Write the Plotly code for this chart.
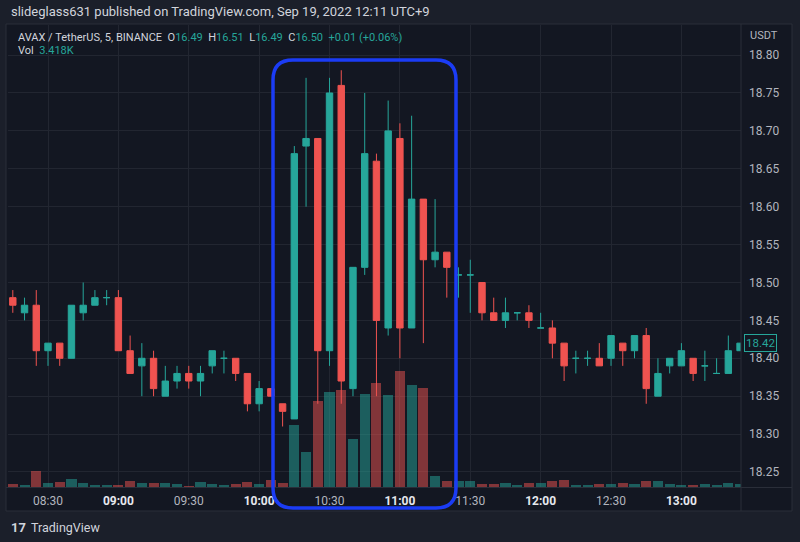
import plotly.graph_objects as go

# ---------------- data ----------------
times = ["08:15", "08:20", "08:25", "08:30", "08:35", "08:40", "08:45", "08:50", "08:55",
         "09:00", "09:05", "09:10", "09:15", "09:20", "09:25", "09:30", "09:35", "09:40",
         "09:45", "09:50", "09:55", "10:00", "10:05", "10:10", "10:15", "10:20", "10:25",
         "10:30", "10:35", "10:40", "10:45", "10:50", "10:55", "11:00", "11:05", "11:10",
         "11:15", "11:20", "11:25", "11:30", "11:35", "11:40", "11:45", "11:50", "11:55",
         "12:00", "12:05", "12:10", "12:15", "12:20", "12:25", "12:30", "12:35", "12:40",
         "12:45", "12:50", "12:55", "13:00", "13:05", "13:10", "13:15", "13:20", "13:25"]

opens = [18.48, 18.46, 18.47, 18.41, 18.42, 18.40, 18.46, 18.47, 18.48, 18.48,
         18.41, 18.39, 18.40, 18.35, 18.37, 18.38, 18.37, 18.39, 18.40, 18.40,
         18.38, 18.34, 18.36, 18.34, 18.32, 18.68, 18.69, 18.41, 18.76, 18.36,
         18.52, 18.66, 18.44, 18.69, 18.44, 18.61, 18.53, 18.54, 18.51, 18.51,
         18.50, 18.46, 18.45, 18.46, 18.46, 18.44, 18.44, 18.42, 18.40, 18.40,
         18.40, 18.40, 18.42, 18.41, 18.43, 18.35, 18.39, 18.39, 18.40, 18.39,
         18.38, 18.38, 18.41]
highs = [18.49, 18.48, 18.49, 18.42, 18.42, 18.47, 18.50, 18.49, 18.49, 18.49,
         18.43, 18.42, 18.41, 18.39, 18.39, 18.39, 18.39, 18.41, 18.41, 18.40,
         18.38, 18.37, 18.36, 18.34, 18.68, 18.77, 18.69, 18.77, 18.78, 18.52,
         18.75, 18.67, 18.74, 18.71, 18.72, 18.61, 18.61, 18.54, 18.52, 18.53,
         18.50, 18.48, 18.48, 18.46, 18.47, 18.46, 18.45, 18.42, 18.41, 18.41,
         18.42, 18.43, 18.42, 18.43, 18.44, 18.40, 18.40, 18.42, 18.40, 18.41,
         18.40, 18.43, 18.42]
lows = [18.46, 18.45, 18.39, 18.39, 18.39, 18.40, 18.45, 18.47, 18.47, 18.41,
        18.38, 18.35, 18.35, 18.35, 18.36, 18.36, 18.35, 18.38, 18.38, 18.37,
        18.33, 18.33, 18.35, 18.31, 18.32, 18.60, 18.34, 18.39, 18.34, 18.35,
        18.51, 18.35, 18.43, 18.40, 18.44, 18.42, 18.52, 18.48, 18.48, 18.46,
        18.45, 18.45, 18.44, 18.45, 18.44, 18.44, 18.40, 18.37, 18.38, 18.39,
        18.39, 18.39, 18.39, 18.40, 18.34, 18.35, 18.38, 18.39, 18.37, 18.37,
        18.38, 18.38, 18.41]
closes = [18.47, 18.47, 18.41, 18.42, 18.40, 18.47, 18.47, 18.48, 18.48, 18.41,
          18.38, 18.40, 18.36, 18.37, 18.38, 18.37, 18.38, 18.41, 18.40, 18.38,
          18.34, 18.36, 18.35, 18.33, 18.67, 18.69, 18.41, 18.75, 18.37, 18.52,
          18.67, 18.45, 18.70, 18.44, 18.61, 18.53, 18.54, 18.52, 18.51, 18.51,
          18.46, 18.45, 18.46, 18.46, 18.45, 18.44, 18.42, 18.39, 18.40, 18.40,
          18.39, 18.43, 18.41, 18.43, 18.36, 18.38, 18.40, 18.41, 18.38, 18.39,
          18.38, 18.41, 18.42]
volumes_k = [3.4, 2.3, 18.0, 4.9, 5.7, 8.8, 4.9, 2.6, 2.6, 2.6,
             6.8, 4.9, 4.9, 4.9, 3.1, 1.5, 6.0, 3.4, 1.9, 3.4,
             5.7, 3.1, 8.0, 4.9, 70.7, 39.9, 98.0, 108.0, 110.6, 54.7,
             105.5, 118.0, 105.0, 132.0, 116.0, 113.0, 12.5, 6.8, 6.3, 6.3,
             3.4, 3.4, 4.6, 2.3, 4.0, 4.0, 6.8, 8.0, 2.6, 2.6,
             3.4, 3.4, 4.6, 3.4, 7.2, 6.3, 2.9, 1.9, 1.9, 2.9,
             2.3, 4.6, 3.418]

tick_times = ["08:30", "09:00", "09:30", "10:00", "10:30", "11:00", "11:30", "12:00", "12:30", "13:00"]
tick_is_hour = [False, True, False, True, False, True, False, True, False, True]
price_ticks = [18.25, 18.30, 18.35, 18.40, 18.45, 18.50, 18.55, 18.60, 18.65, 18.70, 18.75, 18.80]
last_price = 18.42

# ---------------- styles ----------------
UP = "#26a69a"
DOWN = "#ef5350"
UP_VOL = "rgba(38,166,154,0.5)"
DOWN_VOL = "rgba(239,83,80,0.5)"
BG = "#131722"
OUTER = "#1b1f2a"
GRID = "#222631"
BORDER = "#2a2e39"
TEXT = "#d1d4dc"
AXTEXT = "#b2b5be"
HILITE = "#1b3cf5"
FONT = "Roboto"

# plot area in pixels (for paper placement of decorations)
L, R, T, B = 8, 741, 25, 487
W, H = R - L, B - T


def pxx(x):
    return (x - L) / W


def pxy(y):
    return (B - y) / H


pos = list(range(len(times)))
is_up = [c >= o for o, c in zip(opens, closes)]

up_idx = [i for i in pos if is_up[i]]
dn_idx = [i for i in pos if not is_up[i]]

fig = go.Figure()

# volume (primary hidden axis, drawn underneath)
fig.add_trace(go.Bar(
    x=pos, y=volumes_k, yaxis="y",
    marker=dict(color=[UP_VOL if u else DOWN_VOL for u in is_up], line=dict(width=0)),
    width=0.86, hoverinfo="skip", showlegend=False,
))


def candle(idx, color):
    return go.Candlestick(
        x=[pos[i] for i in idx],
        open=[opens[i] for i in idx], high=[highs[i] for i in idx],
        low=[lows[i] for i in idx], close=[closes[i] for i in idx],
        yaxis="y2", whiskerwidth=0,
        increasing=dict(line=dict(color=color, width=1), fillcolor=color),
        decreasing=dict(line=dict(color=color, width=1), fillcolor=color),
        text=[times[i] for i in idx], showlegend=False,
    )


fig.add_trace(candle(up_idx, UP))
fig.add_trace(candle(dn_idx, DOWN))

tickvals = [times.index(t) for t in tick_times]
ticktext = [f"<b><span style='color:#e6e8ee'>{t}</span></b>" if h else t
            for t, h in zip(tick_times, tick_is_hour)]

vol_top = max(volumes_k) * H / 116.0

shapes = [
    # chart panel
    dict(type="rect", xref="paper", yref="paper", layer="below",
         x0=pxx(6), x1=pxx(792), y0=pxy(511), y1=pxy(24),
         fillcolor=BG, line=dict(color=BORDER, width=1)),
    # price-axis separator
    dict(type="line", xref="paper", yref="paper", layer="above",
         x0=pxx(741), x1=pxx(741), y0=pxy(511), y1=pxy(24), line=dict(color=BORDER, width=1)),
    # time-axis separator
    dict(type="line", xref="paper", yref="paper", layer="above",
         x0=pxx(6), x1=pxx(792), y0=pxy(487.5), y1=pxy(487.5), line=dict(color=BORDER, width=1)),
]

# blue hand-drawn highlight box (rounded)
bx0, bx1, by0, by1 = pxx(273), pxx(456), pxy(508), pxy(60)
rx, ry = 20 / W, 20 / H
path = (f"M {bx0+rx},{by1} L {bx1-rx},{by1} Q {bx1},{by1} {bx1},{by1-ry} "
        f"L {bx1},{by0+ry} Q {bx1},{by0} {bx1-rx},{by0} L {bx0+rx},{by0} "
        f"Q {bx0},{by0} {bx0},{by0+ry} L {bx0},{by1-ry} Q {bx0},{by1} {bx0+rx},{by1} Z")
shapes.append(dict(type="path", xref="paper", yref="paper", path=path, layer="above",
                   line=dict(color=HILITE, width=3.5)))

val = lambda v: f"<span style='color:{UP}'>{v}</span>"
legend_line = ("AVAX / TetherUS, 5, BINANCE  " + "O" + val("16.49") + "  H" + val("16.51") +
               "  L" + val("16.49") + "  C" + val("16.50") + "  " + val("+0.01 (+0.06%)"))

annotations = [
    dict(text="slideglass631 published on TradingView.com, Sep 19, 2022 12:11 UTC+9",
         xref="paper", yref="paper", x=pxx(9), y=pxy(12), xanchor="left", yanchor="middle",
         showarrow=False, font=dict(family=FONT, size=13, color=TEXT)),
    dict(text=legend_line, xref="paper", yref="paper", x=pxx(16), y=pxy(37),
         xanchor="left", yanchor="middle", showarrow=False,
         font=dict(family=FONT, size=11, color=TEXT)),
    dict(text="Vol  " + val("3.418K"), xref="paper", yref="paper", x=pxx(16), y=pxy(51),
         xanchor="left", yanchor="middle", showarrow=False,
         font=dict(family=FONT, size=11, color=TEXT)),
    dict(text="USDT", xref="paper", yref="paper", x=pxx(748), y=pxy(35),
         xanchor="left", yanchor="middle", showarrow=False,
         font=dict(family=FONT, size=11, color=AXTEXT)),
    dict(text=f"{last_price:.2f}", xref="paper", yref="y2", x=pxx(744), y=last_price,
         xanchor="left", yanchor="middle", showarrow=False,
         bgcolor=BG, bordercolor=UP, borderwidth=1, borderpad=1,
         font=dict(family=FONT, size=11.5, color=UP)),
    dict(text="<b>17</b>", xref="paper", yref="paper", x=pxx(9), y=pxy(527),
         xanchor="left", yanchor="middle", showarrow=False,
         font=dict(family=FONT, size=13, color=TEXT)),
    dict(text="TradingView", xref="paper", yref="paper", x=pxx(29), y=pxy(527),
         xanchor="left", yanchor="middle", showarrow=False,
         font=dict(family=FONT, size=12.5, color=TEXT)),
]

fig.update_layout(
    width=800, height=542,
    margin=dict(l=L, r=800 - R, t=T, b=542 - B, pad=0),
    paper_bgcolor=OUTER, plot_bgcolor=BG,
    font=dict(family=FONT, size=12, color=AXTEXT),
    showlegend=False, bargap=0, boxgap=0.22,
    xaxis=dict(range=[-0.41, 62.08], tickvals=tickvals, ticktext=ticktext,
               showgrid=True, gridcolor=GRID, gridwidth=1, zeroline=False,
               showline=False, ticks="", ticklabelstandoff=5,
               tickfont=dict(family=FONT, size=12, color=AXTEXT),
               rangeslider=dict(visible=False), fixedrange=True),
    yaxis=dict(range=[0, vol_top], visible=False, showgrid=False, fixedrange=True),
    yaxis2=dict(range=[18.2302, 18.8397], overlaying="y", side="right",
                tickvals=price_ticks, tickformat=".2f",
                showgrid=True, gridcolor=GRID, gridwidth=1, zeroline=False,
                showline=False, ticks="", ticklabelstandoff=7,
                tickfont=dict(family=FONT, size=12, color=AXTEXT), fixedrange=True),
    shapes=shapes, annotations=annotations,
)

fig.write_html("out.html", config=dict(displayModeBar=False),
               post_script="document.body.style.margin='0';document.body.style.background='" + OUTER + "';")
